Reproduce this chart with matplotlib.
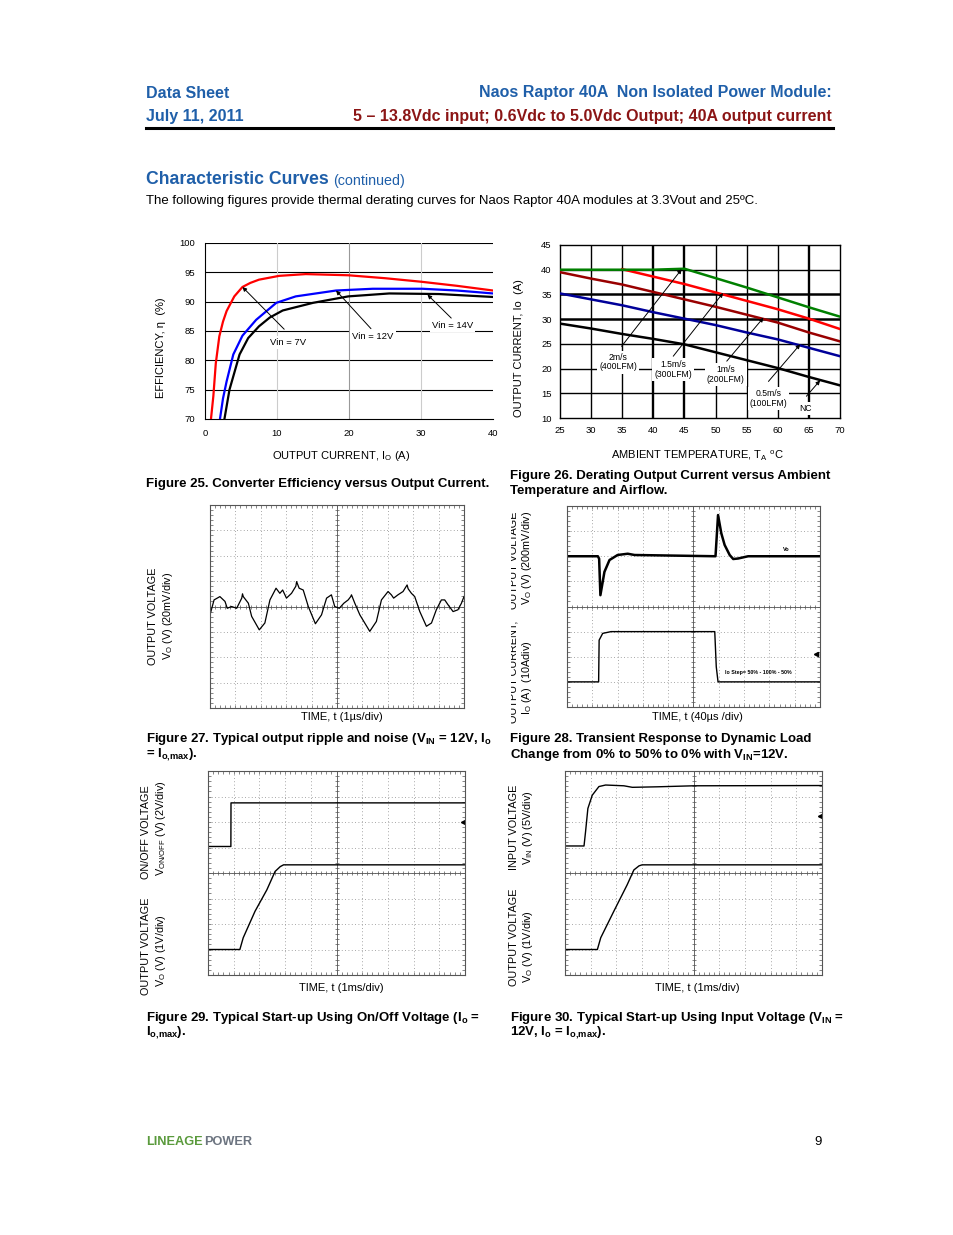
import numpy as np
import matplotlib
matplotlib.use("Agg")
import matplotlib.pyplot as plt
from matplotlib.lines import Line2D
from matplotlib.transforms import Bbox, TransformedBbox

W, H = 954, 1235
plt.rcParams['font.family'] = ['Liberation Sans', 'DejaVu Sans']
plt.rcParams['mathtext.fontset'] = 'custom'
plt.rcParams['mathtext.rm'] = 'Liberation Sans'
plt.rcParams['mathtext.default'] = 'regular'

BLUE = '#1f5fa9'
DRED = '#8b1515'

# ---- Figure 25: efficiency vs output current
red_x = [0.83, 1.16, 1.5, 1.99, 2.5, 3.0, 4.07, 5.2, 6.3, 7.5, 10.3, 14, 19.9, 25, 30, 35, 40]
red_y = [70, 73.9, 79.5, 84.1, 86.6, 88.4, 90.9, 92.5, 93.2, 93.75, 94.4, 94.7, 94.5, 94.0, 93.4, 92.7, 91.9]
blue_x = [2.08, 2.5, 3.0, 3.93, 5.2, 7.1, 9.9, 12.6, 18.2, 23.3, 30.2, 35, 40]
blue_y = [70, 73.5, 76.4, 81, 84.2, 86.9, 89.8, 90.9, 91.9, 92.2, 92.2, 91.9, 91.4]
black_x = [2.7, 3.4, 4.8, 6.0, 7.5, 9.0, 10.8, 15, 19.9, 25.6, 32.5, 40]
black_y = [70, 75, 81, 83.8, 85.8, 87.3, 88.5, 89.8, 90.9, 91.4, 91.3, 90.8]

# ---- Figure 26: derating, temperature (C) vs current (A)
temps = [25, 30, 35, 40, 45, 50, 55, 60, 65, 70]
cur_2ms = [40, 40, 40, 40, 40.2, 38.3, 36.4, 34.4, 32.4, 30.5]
temps_15 = [35, 40, 45, 50, 55, 60, 65, 70]
cur_15ms = [40.1, 38.6, 37.1, 35.4, 33.7, 32.0, 30.1, 28.0]
cur_1ms = [39.5, 38.2, 37.0, 35.5, 34.0, 32.5, 30.9, 29.3, 27.3, 25.5]
cur_05ms = [35.2, 34.0, 32.8, 31.4, 30.1, 28.8, 27.3, 25.9, 24.2, 22.5]
cur_nc = [29.1, 28.1, 27.0, 26.0, 24.9, 23.3, 21.7, 20.1, 18.3, 16.6]

# ---- Figure 27: ripple, time (us) vs mV
rip_t = [0, 0.16, 0.39, 0.59, 0.68, 0.85, 1.05, 1.25, 1.28, 1.31, 1.51, 1.64, 1.94, 2.16, 2.36,
         2.6, 2.75, 2.86, 3.01, 3.21, 3.38, 3.41, 3.51, 3.67, 3.87, 4.15, 4.39, 4.59, 4.78, 4.91,
         5.09, 5.27, 5.44, 5.54, 5.57, 5.7, 5.9, 6.29, 6.55, 6.75, 7.01, 7.14, 7.23, 7.4, 7.6,
         7.76, 7.8, 7.93, 8.06, 8.26, 8.52, 8.72, 8.91, 9.11, 9.24, 9.37, 9.57, 9.76, 9.9, 10]
rip_mv = [-6.6, 5.2, 7.8, 4, -1.4, 0, -1.4, 6.6, 10, 7.8, 2.6, -7.8, -18.4, -13, 5.2,
          14.4, 10.4, 13, 6.6, 10.4, 16, 19.6, 14.4, 13, 0, -13.6, -6.6, 6.6, 9.2, 0,
          -1.4, 2.6, 5.2, 7.8, 9.2, 2.6, -6.6, -19.6, -11.8, 5.2, 11.8, 9.2, 6.6, 9.2, 11.8,
          17, 14, 10.4, 7.8, -4, -15.6, -13, -2.6, 5.2, 5.2, 1.4, -4, -2.6, 2.6, 7.8]

# ---- Figure 28: transient, time (us)
tr_vo_t = [0, 48.8, 50.8, 52.8, 59.2, 67.2, 80, 96, 106.8, 234.8, 238.8, 244, 249.2, 257.2, 262.8, 270.4, 286.4, 400]
tr_vo_mv = [0, 0, -20, -310, -124, -30, 10, 20, 10, 0, 328, 182, 90, 10, -22, -18, 0, 0]
tr_io_t = [0, 50, 50.8, 56.4, 69.6, 233.6, 236, 238.8, 400]
tr_io_a = [0, 0, 16.6, 19.3, 20, 20, 6, 0, 0]
trig28 = (393, 10.9)

# ---- Figure 29: start-up using on/off, time (ms)
on_t = [0, 0.89, 0.895, 10]
on_v = [0, 0, 3.42, 3.42]
vo29_t = [0, 1.24, 1.37, 1.83, 2.29, 2.61, 2.81, 2.94, 10]
vo29_v = [0, 0, 0.46, 1.5, 2.34, 3.06, 3.25, 3.32, 3.32]
trig29 = (9.91, 1.94)

# ---- Figure 30: start-up using input voltage, time (ms)
vin_t = [0, 0.74, 0.8, 0.89, 1.06, 1.32, 1.58, 2.29, 2.62, 3.59, 5.01, 10]
vin_v = [0, 0, 2.8, 7.35, 9.95, 11.65, 11.95, 11.8, 11.5, 11.6, 11.8, 11.85]
vo30_t = [0, 1.26, 1.39, 1.9, 2.42, 2.68, 2.88, 3.0, 10]
vo30_v = [0, 0, 0.46, 1.5, 2.54, 3.12, 3.28, 3.32, 3.32]
trig30 = (9.91, 5.9)

fig = plt.figure(figsize=(W / 100, H / 100), dpi=100)


def box(x0, y0, x1, y1):
    return fig.add_axes([x0 / W, 1 - y1 / H, (x1 - x0) / W, (y1 - y0) / H])


def txt(x, y, s, **kw):
    kw.setdefault('va', 'center')
    return fig.text(x / W, 1 - y / H, s, **kw)


def clip_left(t, xpix):
    t.set_clip_box(TransformedBbox(Bbox.from_extents(xpix / W, 0, 1, 1), fig.transFigure))
    t.set_clip_on(True)


def scope(x0, y0, x1, y1):
    ax = box(x0, y0, x1, y1)
    ax.set_xlim(0, 10)
    ax.set_ylim(0, 8)
    for i in range(1, 10):
        ax.axvline(i, color='#8a8a8a', lw=0.6, ls=(0, (1, 3)))
    for j in range(1, 8):
        ax.axhline(j, color='#8a8a8a', lw=0.6, ls=(0, (1, 3)))
    ax.axvline(5, color='#555555', lw=0.6)
    ax.axhline(4, color='#555555', lw=0.6)
    ax.plot(np.arange(0, 10.01, 0.2), np.full(51, 4.0), ls='none', marker='|', ms=3.5, mew=0.5, color='#555555')
    ax.plot(np.full(41, 5.0), np.arange(0, 8.01, 0.2), ls='none', marker='_', ms=3.5, mew=0.5, color='#555555')
    ax.set_xticks(np.arange(0, 10.01, 0.2))
    ax.set_yticks(np.arange(0, 8.01, 0.2))
    ax.tick_params(direction='in', length=2.5, width=0.5, color='#555555', top=True, right=True,
                   labelbottom=False, labelleft=False)
    for s in ax.spines.values():
        s.set_color('#555555')
        s.set_linewidth(0.8)
    return ax


# ---- page header
txt(146, 93, 'Data Sheet', color=BLUE, weight='bold', size=11.5)
txt(146, 116, 'July 11, 2011', color=BLUE, weight='bold', size=11.5)
txt(832, 93, 'Naos Raptor 40A  Non Isolated Power Module:', color=BLUE, weight='bold', size=11.5, ha='right')
txt(832, 116, '5 \u2013 13.8Vdc input; 0.6Vdc to 5.0Vdc Output; 40A output current', color=DRED,
    weight='bold', size=11.5, ha='right')
fig.add_artist(Line2D([146 / W, 833 / W], [1 - 128 / H] * 2, color='k', lw=2.2))

txt(146, 180, 'Characteristic Curves', color=BLUE, weight='bold', size=12.7)
txt(333, 181, '(continued)', color=BLUE, size=10.3)
txt(146, 201, 'The following figures provide thermal derating curves for Naos Raptor 40A modules at 3.3Vout and 25\u00baC.',
    size=9.5)

# ---- Figure 25
ax = box(205, 243, 493, 419)
ax.set_xlim(0, 40)
ax.set_ylim(70, 100)
for v in [75, 80, 85, 90, 95, 100]:
    ax.axhline(v, color='k', lw=0.8, zorder=1)
ax.axvline(10, color='#cccccc', lw=0.8, zorder=1)
ax.axvline(20, color='#999999', lw=0.8, zorder=1)
ax.axvline(30, color='#cccccc', lw=0.8, zorder=1)
ax.plot(red_x, red_y, color='#ff0000', lw=1.6, zorder=3)
ax.plot(blue_x, blue_y, color='#0000ff', lw=1.6, zorder=3)
ax.plot(black_x, black_y, color='k', lw=1.6, zorder=3)
for s in ['top', 'right']:
    ax.spines[s].set_visible(False)
ax.spines['left'].set_linewidth(0.8)
ax.spines['bottom'].set_linewidth(0.8)
ax.set_xticks([0, 10, 20, 30, 40])
ax.set_yticks([70, 75, 80, 85, 90, 95, 100])
ax.tick_params(length=0, labelsize=6.8, pad=7)
arr = dict(arrowstyle='-|>', lw=0.7, color='k', mutation_scale=6, shrinkA=0, shrinkB=0)
ax.annotate('', xy=(5.2, 92.5), xytext=(11.0, 85.3), arrowprops=arr, zorder=4)
ax.annotate('', xy=(18.2, 91.9), xytext=(23.05, 85.4), arrowprops=arr, zorder=4)
ax.annotate('', xy=(30.9, 91.2), xytext=(34.2, 87.2), arrowprops=arr, zorder=4)
wb = dict(facecolor='white', edgecolor='none', pad=1.5)
ax.text(11.6, 83.1, 'Vin = 7V', size=6.8, ha='center', va='center', bbox=wb, zorder=5)
ax.text(23.3, 84.1, 'Vin = 12V', size=6.8, ha='center', va='center', bbox=wb, zorder=5)
ax.text(34.4, 86.0, 'Vin = 14V', size=6.8, ha='center', va='center', bbox=wb, zorder=5)
txt(161, 348, 'EFFICIENCY, \u03b7  (%)', rotation=90, size=8, ha='center')
txt(341, 456, 'OUTPUT CURRENT, I$_O$ (A)', size=8, ha='center')

# ---- Figure 26
ax = box(560, 245, 840, 418)
ax.set_xlim(25, 70)
ax.set_ylim(10, 45)
for v in range(15, 45, 5):
    ax.axhline(v, color='k', lw=1.8 if v in (30, 35) else 1.0, zorder=1)
for v in range(30, 70, 5):
    ax.axvline(v, color='k', lw=1.7 if v in (40, 45, 65) else 1.0, zorder=1)
ax.plot(temps, cur_nc, color='k', lw=1.8, zorder=3)
ax.plot(temps, cur_05ms, color='#000099', lw=1.8, zorder=3)
ax.plot(temps, cur_1ms, color='#990000', lw=1.8, zorder=3)
ax.plot(temps_15, cur_15ms, color='#ff0000', lw=1.8, zorder=3)
ax.plot(temps, cur_2ms, color='#008000', lw=1.8, zorder=4)
for s in ax.spines.values():
    s.set_linewidth(1.0)
ax.set_xticks(temps)
ax.set_yticks(range(10, 50, 5))
ax.tick_params(length=0, labelsize=6.8, pad=6)
for xy, xyt in [((44.55, 40.1), (34.9, 24.5)), ((51.2, 35.3), (43.2, 22.5)),
                ((57.7, 30.3), (51.8, 21.5)), ((63.6, 24.9), (58.5, 17.4)),
                ((66.8, 17.6), (64.6, 14.4))]:
    ax.annotate('', xy=xy, xytext=xyt, arrowprops=arr, zorder=5)
for x, y, s in [(34.4, 21.3, '2m/s\n(400LFM)'), (43.2, 19.8, '1.5m/s\n(300LFM)'),
                (51.6, 18.8, '1m/s\n(200LFM)'), (58.5, 14.0, '0.5m/s\n(100LFM)'),
                (64.5, 12.0, 'NC')]:
    ax.text(x, y, s, size=6.2, ha='center', va='center', bbox=wb, zorder=6, linespacing=1.1)
txt(519, 348, 'OUTPUT CURRENT, Io  (A)', rotation=90, size=8, ha='center')
txt(697, 455, 'AMBIENT TEMPERATURE, T$_A$ $^o$C', size=8, ha='center')

# ---- Figure 27
ax = scope(210, 505, 464, 708)
ax.plot(rip_t, [4 + v / 20 for v in rip_mv], color='k', lw=0.9)
txt(153, 616, 'OUTPUT VOLTAGE', rotation=90, size=7.8, ha='center')
txt(168, 616, 'V$_O$ (V) (20mV/div)', rotation=90, size=7.8, ha='center')
txt(342, 717, 'TIME, t (1\u00b5s/div)', size=8, ha='center')

# ---- Figure 28
ax = scope(567, 506, 820, 707)
ax.plot([t / 40 for t in tr_vo_t], [6 + v / 200 for v in tr_vo_mv], color='k', lw=1.8)
ax.plot([t / 40 for t in tr_io_t], [1 + a / 10 for a in tr_io_a], color='k', lw=1.0)
ax.plot(trig28[0] / 40, 1 + trig28[1] / 10, marker='<', ms=3, color='k')
ax.text(8.68, 6.27, 'Vo', size=4, weight='bold', ha='center', va='center')
ax.text(6.24, 1.36, 'Io Step= 50% - 100% - 50%', size=3.8, weight='bold', ha='left', va='center')
t1 = txt(514, 560, 'OUTPUT VOLTAGE', rotation=90, size=7.8, ha='center')
clip_left(t1, 511)
txt(527, 558, 'V$_O$ (V) (200mV/div)', rotation=90, size=7.8, ha='center')
t2 = txt(514, 672, 'OUTPUT CURRENT,', rotation=90, size=7.8, ha='center')
clip_left(t2, 511)
txt(527, 678, 'I$_O$ (A)  (10Adiv)', rotation=90, size=7.8, ha='center')
txt(697, 717, 'TIME, t (40\u00b5s /div)', size=8, ha='center')

# ---- Figure 29
ax = scope(208, 771, 465, 975)
ax.plot(on_t, [5.04 + v / 2 for v in on_v], color='k', lw=1.0)
ax.plot(vo29_t, [1 + v for v in vo29_v], color='k', lw=1.0)
ax.plot(trig29[0], 5.04 + trig29[1] / 2, marker='<', ms=3, color='k')
txt(146, 832, 'ON/OFF VOLTAGE', rotation=90, size=7.8, ha='center')
txt(161, 828, 'V$_{ON/OFF}$ (V) (2V/div)', rotation=90, size=7.8, ha='center')
txt(146, 946, 'OUTPUT VOLTAGE', rotation=90, size=7.8, ha='center')
txt(161, 951, 'V$_O$ (V) (1V/div)', rotation=90, size=7.8, ha='center')
txt(341, 988, 'TIME, t (1ms/div)', size=8, ha='center')

# ---- Figure 30
ax = scope(565, 771, 822, 975)
ax.plot(vin_t, [5.06 + v / 5 for v in vin_v], color='k', lw=1.0)
ax.plot(vo30_t, [1 + v for v in vo30_v], color='k', lw=1.0)
ax.plot(trig30[0], 5.06 + trig30[1] / 5, marker='<', ms=3, color='k')
txt(514, 827, 'INPUT VOLTAGE', rotation=90, size=7.8, ha='center')
txt(528, 828, 'V$_{IN}$ (V) (5V/div)', rotation=90, size=7.8, ha='center')
txt(514, 937, 'OUTPUT VOLTAGE', rotation=90, size=7.8, ha='center')
txt(528, 947, 'V$_O$ (V) (1V/div)', rotation=90, size=7.8, ha='center')
txt(697, 988, 'TIME, t (1ms/div)', size=8, ha='center')

# ---- captions
cap = dict(weight='bold', size=9.5)
txt(146, 484, 'Figure 25. Converter Efficiency versus Output Current.', **cap)
txt(510, 476, 'Figure 26. Derating Output Current versus Ambient', **cap)
txt(510, 491, 'Temperature and Airflow.', **cap)
txt(146, 739, 'Figure 27. Typical output ripple and noise (V$_{IN}$ = 12V, I$_o$', **cap)
txt(146, 755, '= I$_{o{,}max}$).', **cap)
txt(510, 739, 'Figure 28. Transient Response to Dynamic Load', **cap)
txt(510, 755, 'Change from 0% to 50% to 0% with V$_{IN}$=12V.', **cap)
txt(146, 1018, 'Figure 29. Typical Start-up Using On/Off Voltage (I$_o$ =', **cap)
txt(146, 1033, 'I$_{o{,}max}$).', **cap)
txt(510, 1018, 'Figure 30. Typical Start-up Using Input Voltage (V$_{IN}$ =', **cap)
txt(510, 1033, '12V, I$_o$ = I$_{o{,}max}$).', **cap)

# ---- footer
txt(146, 1142, 'LINEAGE', color='#5a9a3c', weight='bold', size=9.2)
txt(204, 1142, 'POWER', color='#6c7480', weight='bold', size=9.2)
txt(822, 1142, '9', size=9.5, ha='right')

fig.savefig('out.png', dpi=100)
